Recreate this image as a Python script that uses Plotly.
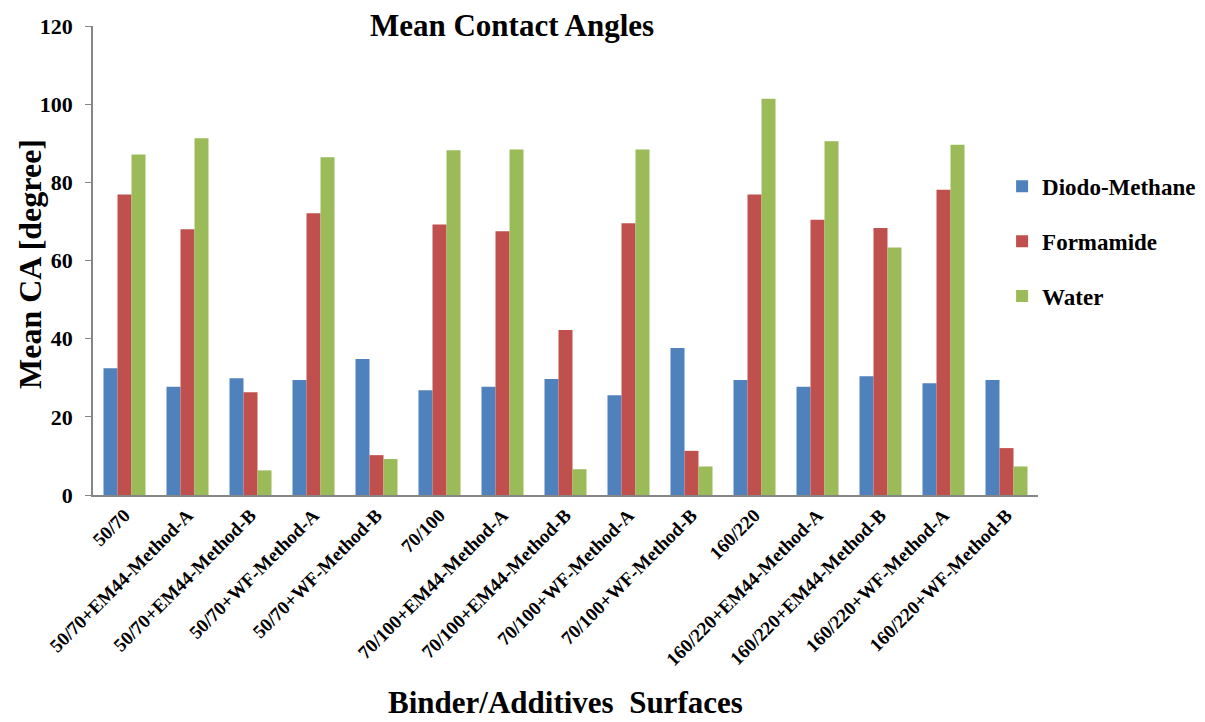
import plotly.graph_objects as go

categories = ["50/70", "50/70+EM44-Method-A", "50/70+EM44-Method-B", "50/70+WF-Method-A",
              "50/70+WF-Method-B", "70/100", "70/100+EM44-Method-A", "70/100+EM44-Method-B",
              "70/100+WF-Method-A", "70/100+WF-Method-B", "160/220", "160/220+EM44-Method-A",
              "160/220+EM44-Method-B", "160/220+WF-Method-A", "160/220+WF-Method-B"]
diodo_methane = [32.4, 27.7, 29.9, 29.4, 34.8, 26.8, 27.7, 29.7, 25.5, 37.6, 29.4, 27.7, 30.4, 28.6, 29.4]
formamide = [76.9, 68.0, 26.3, 72.1, 10.2, 69.2, 67.5, 42.2, 69.5, 11.3, 76.9, 70.4, 68.3, 78.1, 12.0]
water = [87.1, 91.3, 6.3, 86.4, 9.2, 88.2, 88.4, 6.6, 88.4, 7.3, 101.4, 90.5, 63.3, 89.6, 7.3]
y_ticks = [0, 20, 40, 60, 80, 100, 120]

FONT = "Liberation Serif, Times New Roman, serif"
W, H = 1197, 714

fig = go.Figure()
for name, vals, col in [("Diodo-Methane", diodo_methane, "#4F81BD"),
                        ("Formamide", formamide, "#C0504D"),
                        ("Water", water, "#9BBB59")]:
    fig.add_trace(go.Bar(x=categories, y=vals, name=name, marker_color=col,
                         marker_line_width=0, legendgroup=name))

fig.update_layout(
    width=W, height=H,
    paper_bgcolor="white", plot_bgcolor="white",
    margin=dict(l=85, r=167, t=18, b=227, autoexpand=False),
    barmode="group", bargap=0.333, bargroupgap=0,
    font=dict(family=FONT, color="black", size=18, weight="bold"),
    title=dict(text="Mean Contact Angles", x=504 / W, xref="container", xanchor="center",
               y=1 - 17 / H, yref="container", yanchor="middle",
               font=dict(family=FONT, size=31, weight="bold")),
    legend=dict(x=0.962, xanchor="left", y=0.704, yanchor="top",
                font=dict(family=FONT, size=23, weight="bold"),
                tracegroupgap=22, bgcolor="rgba(0,0,0,0)"),
    showlegend=True,
    annotations=[
        dict(text="Binder/Additives  Surfaces", xref="paper", yref="paper",
             x=(557 - 85) / 945, y=-(694 - 487) / 469, xanchor="center", yanchor="middle",
             showarrow=False, font=dict(family=FONT, size=31, weight="bold")),
        dict(text="Mean CA [degree]", xref="paper", yref="paper",
             x=-(85 - 22) / 945, y=(487 - 256) / 469, xanchor="center", yanchor="middle",
             textangle=-90, showarrow=False, font=dict(family=FONT, size=32, weight="bold")),
    ],
)
fig.update_xaxes(tickangle=-45, showline=True, linecolor="#868686", linewidth=1.5,
                 ticks="", automargin=False,
                 tickfont=dict(family=FONT, size=19, weight="bold"))
fig.update_yaxes(range=[0, 120], tickvals=y_ticks, showgrid=False, zeroline=False,
                 showline=True, linecolor="#868686", linewidth=1.5, automargin=False,
                 ticks="outside", ticklen=6, tickcolor="#868686", ticklabelstandoff=8,
                 tickfont=dict(family=FONT, size=22, weight="bold"))

fig.write_html("out.html")
